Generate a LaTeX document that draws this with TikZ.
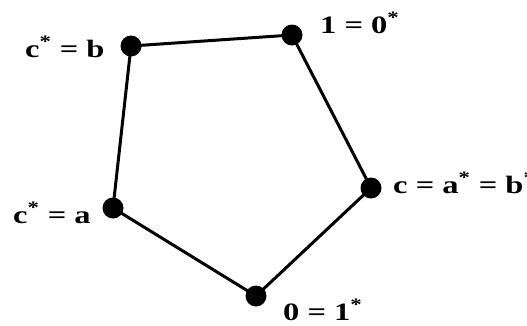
\documentclass[tikz,border=0pt]{standalone}
\usepackage{fontspec}
\setmainfont{Liberation Serif}
\newcommand{\widetxt}[1]{\scalebox{1.3}[1]{#1}}
\begin{document}
\begin{tikzpicture}[x=1pt,y=-1pt,
  dot/.style={circle,fill=black,inner sep=0pt,minimum size=21pt},
  lbl/.style={anchor=base west,inner sep=0pt,font=\fontsize{25}{30}\selectfont\bfseries},
  edge/.style={line width=3pt}]
\useasboundingbox (0,0) rectangle (527,325);
\node[dot] (b) at (131,46) {};
\node[dot] (t) at (292,35) {};
\node[dot] (r) at (371,188) {};
\node[dot] (z) at (256,296) {};
\node[dot] (a) at (113,208) {};
\draw[edge] (b.center) -- (t.center) -- (r.center) -- (z.center) -- (a.center) -- (b.center);
\node[lbl] (lb) at (25,57) {\widetxt{c\textsuperscript{*} = b}};
\node[lbl] (lt) at (320,33) {\widetxt{1 = 0\textsuperscript{*}}};
\node[lbl] (lr) at (393,193) {\widetxt{c = a\textsuperscript{*} = b\textsuperscript{*}}};
\node[lbl] (lz) at (283,320) {\widetxt{0 = 1\textsuperscript{*}}};
\node[lbl] (la) at (13,223) {\widetxt{c\textsuperscript{*} = a}};
\end{tikzpicture}
\end{document}
